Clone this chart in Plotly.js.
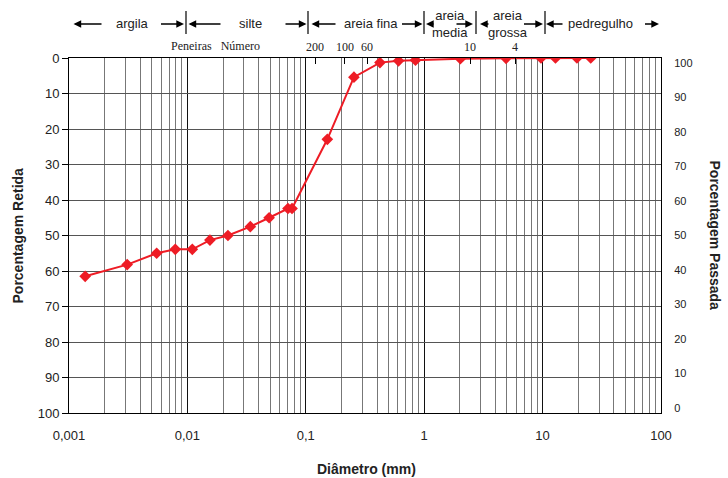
<!DOCTYPE html>
<html>
<head>
<meta charset="utf-8">
<script src="https://cdn.plot.ly/plotly-3.0.1.min.js"></script>
<style>html,body{margin:0;padding:0;background:#fff;}#chart{width:728px;height:478px;}</style>
</head>
<body>
<div id="chart"></div>
<script>
// Data
const diametro = [0.00137, 0.0031, 0.0055, 0.0079, 0.011, 0.0155, 0.022, 0.034, 0.049, 0.0707, 0.0765,
                  0.152, 0.255, 0.423, 0.607, 0.844, 2.02, 4.91, 9.69, 12.85, 19.5, 25.5];
const retida = [61.5, 58.2, 55.0, 53.9, 53.9, 51.3, 50.0, 47.5, 45.0, 42.4, 42.4,
                22.9, 5.4, 1.3, 0.8, 0.6, 0.2, 0.1, 0, 0, 0, 0];
const passada = retida.map(v => 100 - v);

const xTickVals = [0.001, 0.01, 0.1, 1, 10, 100];
const xTickText = ['0,001', '0,01', '0,1', '1', '10', '100'];
const yTicks = [0, 10, 20, 30, 40, 50, 60, 70, 80, 90, 100];

// sieve marks (as drawn on the reference)
const sieveLabels = ['200', '100', '60', '10', '4'];
const sievePos = [0.1196, 0.2143, 0.3288, 2.437, 5.85];

// soil class header
const classNames = ['argila', 'silte', 'areia fina', 'areia<br>media', 'areia<br>grossa', 'pedregulho'];

// ---- layout geometry (pixels) ----
const W = 728, H = 478, L = 69, R = 661, T = 58, B = 413;
const px = x => (x - L) / (R - L);
const py = y => (B - y) / (B - T);

const classCenters = [132, 250, 371, 450, 508, 600];
const separators = [186, 308, 424, 476, 545];
const arrows = [[73.5,103],[184,159.5],[188.5,222],[306.5,284],[311.5,337],[422.5,400.5],
                [426,435],[473,455],[480,490],[543,522.5],[546,564],[659,643.5]];

const font = 'Liberation Sans, Arial, sans-serif';
const serif = 'Liberation Serif, Times New Roman, serif';

const traces = [
  {
    x: diametro, y: retida, type: 'scatter', mode: 'lines+markers',
    line: {color: '#ee1c25', width: 2},
    marker: {symbol: 'diamond', size: 9, color: '#ee1c25'},
    hoverinfo: 'x+y', showlegend: false
  },
  {
    x: diametro, y: passada, type: 'scatter', mode: 'lines', yaxis: 'y2',
    line: {color: 'rgba(0,0,0,0)', width: 0}, hoverinfo: 'skip', showlegend: false
  },
  {
    x: sievePos, y: sievePos.map(() => 0), type: 'scatter', mode: 'lines', xaxis: 'x2',
    line: {color: 'rgba(0,0,0,0)', width: 0}, hoverinfo: 'skip', showlegend: false
  }
];

const annotations = [];
classNames.forEach((t, i) => {
  annotations.push({
    xref: 'paper', yref: 'paper', x: px(classCenters[i]), y: py(24),
    text: t, showarrow: false, xanchor: 'center', yanchor: 'middle',
    font: {family: font, size: 13, color: '#222'}
  });
});
arrows.forEach(a => {
  annotations.push({
    xref: 'paper', yref: 'paper', x: px(a[0]), y: py(24), ax: a[1] - a[0], ay: 0,
    text: '', showarrow: true, arrowhead: 2, arrowsize: 1.1, arrowwidth: 1.4,
    arrowcolor: '#000', standoff: 0, startstandoff: 0
  });
});
annotations.push({
  xref: 'paper', yref: 'paper', x: px(215), y: py(46), text: 'Peneiras&nbsp;&nbsp;&nbsp;Número',
  showarrow: false, xanchor: 'center', yanchor: 'middle',
  font: {family: serif, size: 12, color: '#222'}
});
annotations.push({
  xref: 'paper', yref: 'paper', x: px(17), y: 0.5, text: '<b>Porcentagem Retida</b>',
  textangle: -90, showarrow: false, xanchor: 'center', yanchor: 'middle',
  font: {family: font, size: 14, color: '#222'}
});
annotations.push({
  xref: 'paper', yref: 'paper', x: px(715), y: 0.5, text: '<b>Porcentagem Passada</b>',
  textangle: 90, showarrow: false, xanchor: 'center', yanchor: 'middle',
  font: {family: font, size: 14, color: '#222'}
});
annotations.push({
  xref: 'paper', yref: 'paper', x: px(366), y: py(469), text: '<b>Diâmetro (mm)</b>',
  showarrow: false, xanchor: 'center', yanchor: 'middle',
  font: {family: font, size: 14, color: '#222'}
});

const shapes = separators.map(s => ({
  type: 'line', xref: 'paper', yref: 'paper', x0: px(s), x1: px(s), y0: py(34), y1: py(11),
  line: {color: '#000', width: 1.2}
}));

const layout = {
  width: W, height: H,
  margin: {l: L, r: W - R, t: T, b: H - B, pad: 0},
  paper_bgcolor: '#fff', plot_bgcolor: '#fff',
  font: {family: font, size: 12, color: '#222'},
  showlegend: false,
  xaxis: {
    type: 'log', range: [-3, 2], tickvals: xTickVals, ticktext: xTickText,
    ticks: '', showline: true, linecolor: '#000', linewidth: 1, mirror: true,
    showgrid: true, gridcolor: '#111', gridwidth: 1,
    minor: {dtick: 'D1', showgrid: true, gridcolor: '#777', gridwidth: 1, ticks: ''},
    tickfont: {family: font, size: 13, color: '#222'},
    ticklabelstandoff: 10, zeroline: false
  },
  xaxis2: {
    type: 'log', range: [-3, 2], overlaying: 'x', side: 'top', anchor: 'y',
    tickvals: sievePos, ticktext: sieveLabels, ticks: 'inside', ticklen: 6, tickwidth: 1,
    tickcolor: '#000', showgrid: false, showline: false, zeroline: false,
    ticklabelstandoff: 4,
    tickfont: {family: serif, size: 12, color: '#222'}
  },
  yaxis: {
    range: [100, 0], tickvals: yTicks, ticks: 'outside', ticklen: 6, tickcolor: '#000',
    showline: true, linecolor: '#000', linewidth: 1, mirror: true,
    showgrid: true, gridcolor: '#555', gridwidth: 1, zeroline: false,
    tickfont: {family: font, size: 13, color: '#222'}
  },
  yaxis2: {
    range: [-1.45, 101.36], overlaying: 'y', side: 'right', tickvals: yTicks,
    ticks: 'outside', ticklen: 10, tickcolor: 'rgba(0,0,0,0)',
    showgrid: false, showline: false, zeroline: false,
    tickfont: {family: font, size: 11, color: '#222'}
  },
  annotations: annotations,
  shapes: shapes
};

Plotly.newPlot('chart', traces, layout, {displayModeBar: false, staticPlot: true});
</script>
</body>
</html>
